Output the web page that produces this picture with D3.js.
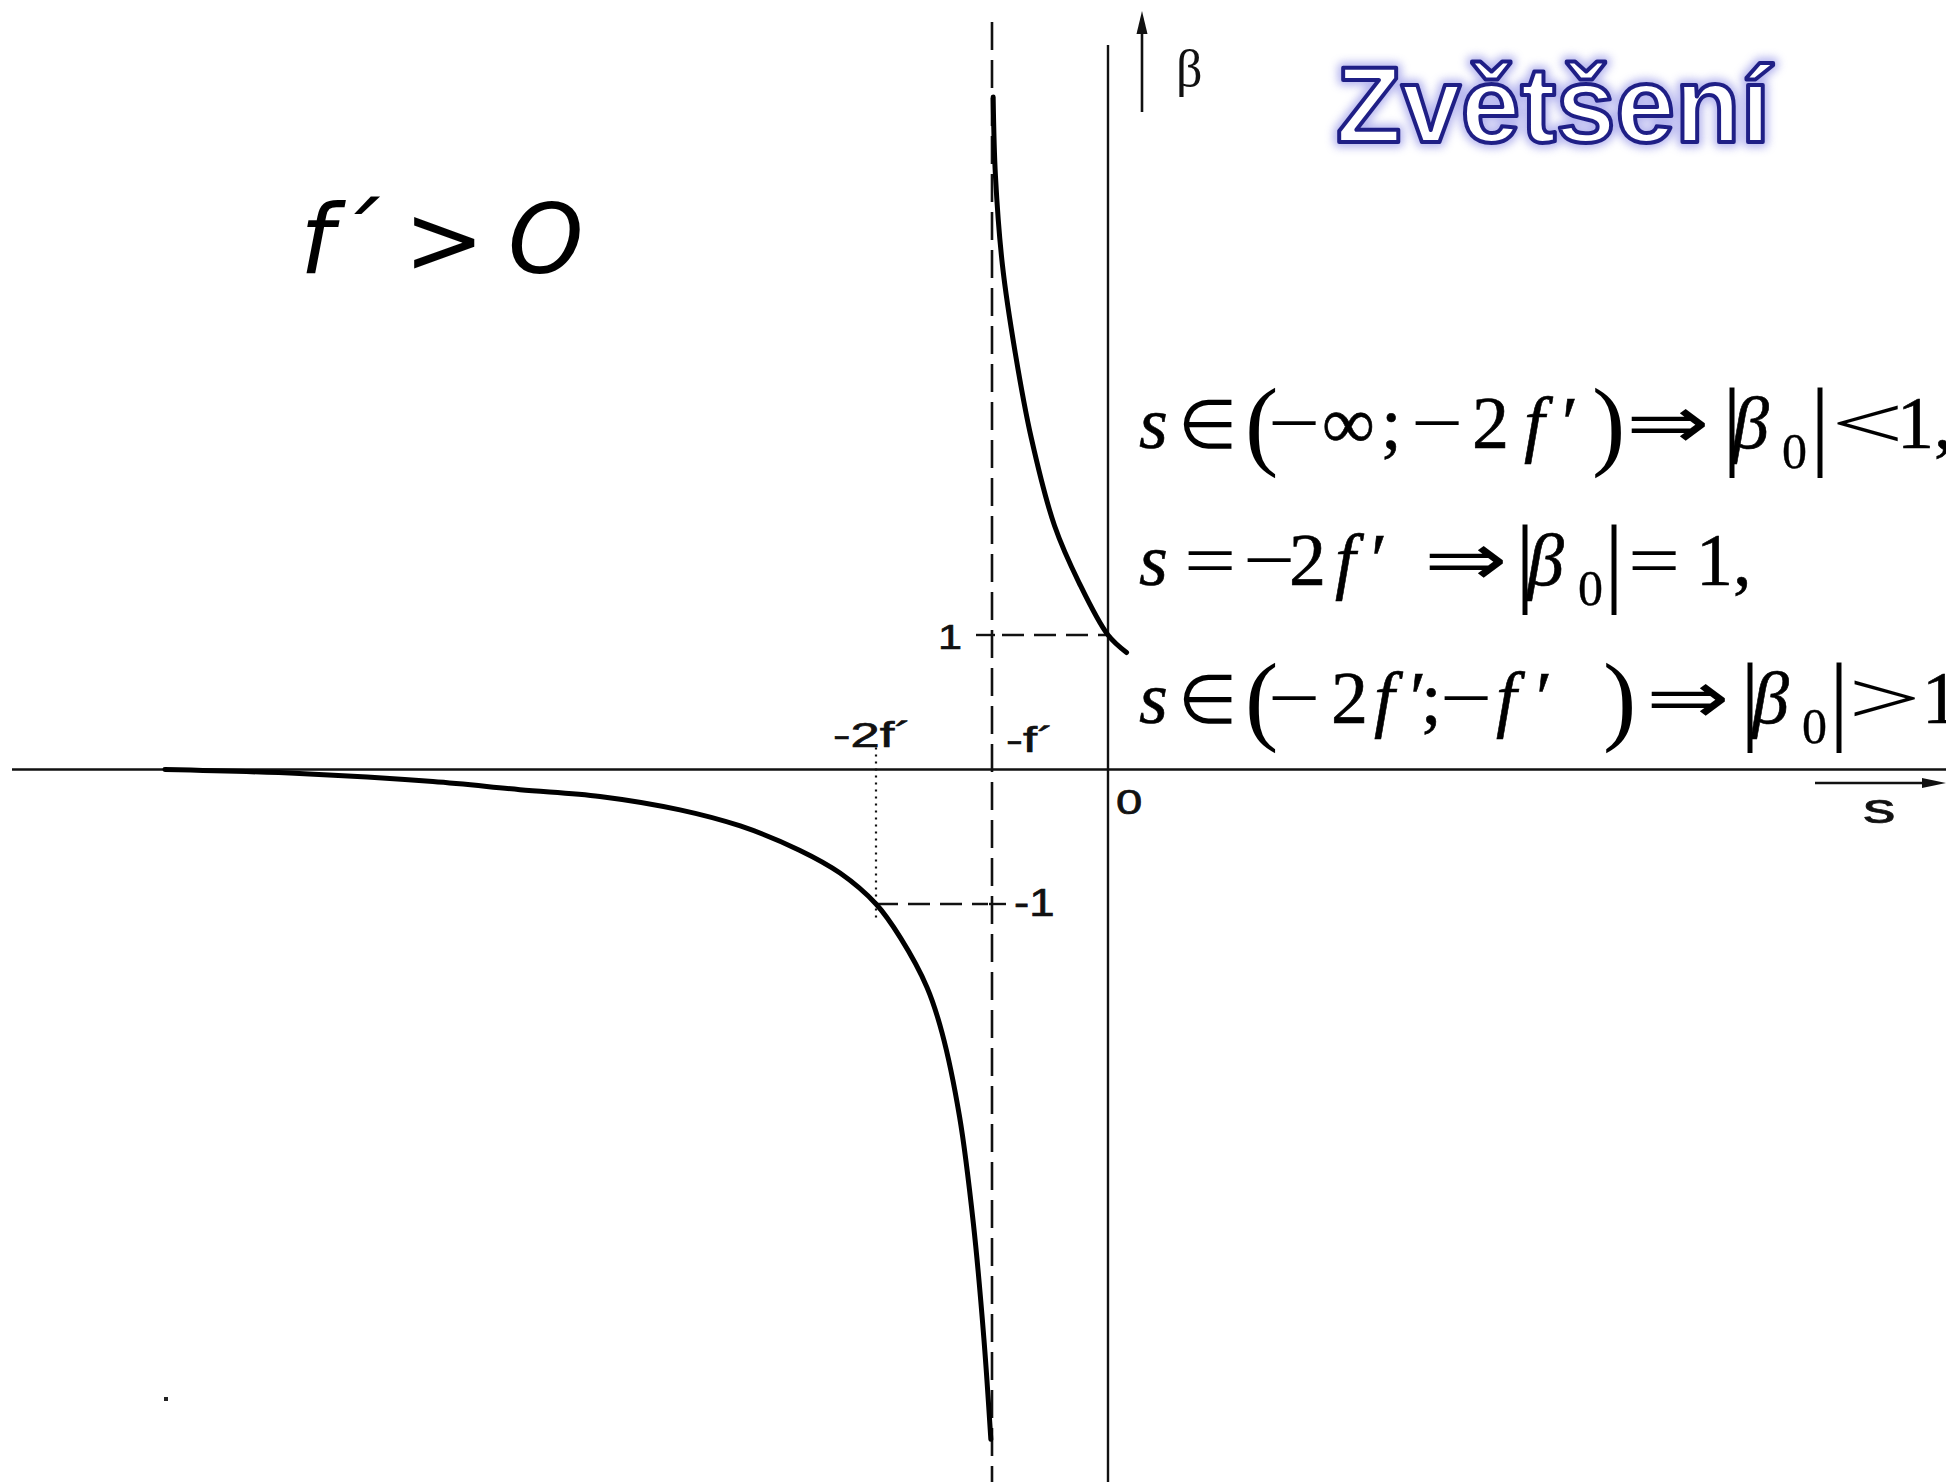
<!DOCTYPE html>
<html>
<head>
<meta charset="utf-8">
<script src="https://cdn.jsdelivr.net/npm/d3@7"></script>
<style>
  html, body { margin: 0; padding: 0; background: #fff; overflow: hidden; }
  svg { display: block; }
</style>
</head>
<body>
<svg id="chart" width="1946" height="1482"></svg>
<script>
// Lateral magnification β of a thin lens (f´ > 0) versus object distance s (in units of f´)
const leftS    = [-8.13, -6.97, -5.82, -5.07, -4.38, -3.69, -3.17, -2.66, -2.31, -2.00, -1.79, -1.56, -1.43, -1.28, -1.16, -1.07, -1.01];
const leftBeta = [ 0.00, -0.03, -0.09, -0.15, -0.20, -0.30, -0.42, -0.60, -0.77, -1.00, -1.25, -1.62, -1.96, -2.58, -3.38, -4.23, -4.98];
const rightS    = [-0.99, -0.97, -0.91, -0.80, -0.66, -0.46, -0.25, 0.00, 0.16];
const rightBeta = [ 5.00,  4.41,  3.75,  3.10,  2.46,  1.81,  1.39, 1.00, 0.87];

const sTicks = [-2, -1, 0];
const sTickLabels = ["-2f´", "-f´", "0"];
const betaTicks = [1, -1];
const betaTickLabels = ["1", "-1"];

const svg = d3.select("#chart");
const W = 1946, H = 1482;

const x = d3.scaleLinear().domain([-2, 0]).range([876, 1108]);
const y = d3.scaleLinear().domain([-1, 1]).range([904, 635]);

const ink = "#111";
const sans = "'Liberation Sans', Arial, sans-serif";
const serif = "'Liberation Serif', 'Times New Roman', serif";

// ---- axes ----
svg.append("line").attr("x1", 12).attr("x2", W).attr("y1", y(0)).attr("y2", y(0))
  .attr("stroke", ink).attr("stroke-width", 2.6);
svg.append("line").attr("x1", x(0)).attr("x2", x(0)).attr("y1", 45).attr("y2", H)
  .attr("stroke", ink).attr("stroke-width", 2.4);

// asymptote s = -f´
svg.append("line").attr("x1", x(-1)).attr("x2", x(-1)).attr("y1", 22).attr("y2", H)
  .attr("stroke", ink).attr("stroke-width", 2.6).attr("stroke-dasharray", "28,10");

// guides to β = 1 and β = -1
svg.append("line").attr("x1", x(-1) + 10).attr("x2", x(0)).attr("y1", y(1)).attr("y2", y(1))
  .attr("stroke", ink).attr("stroke-width", 2.4).attr("stroke-dasharray", "22,10");
svg.append("line").attr("x1", x(-2)).attr("x2", x(-1) - 4).attr("y1", y(-1)).attr("y2", y(-1))
  .attr("stroke", ink).attr("stroke-width", 2.4).attr("stroke-dasharray", "22,10");
// dotted drop from s = -2f´
svg.append("line").attr("x1", x(-2)).attr("x2", x(-2)).attr("y1", y(0) - 22).attr("y2", y(-1) + 18)
  .attr("stroke", ink).attr("stroke-width", 2.2).attr("stroke-dasharray", "2,5");

// β ticks on the asymptote
svg.append("line").attr("x1", x(-1) - 16).attr("x2", x(-1) + 3).attr("y1", y(1)).attr("y2", y(1))
  .attr("stroke", ink).attr("stroke-width", 2.4);
svg.append("line").attr("x1", x(-1) - 3).attr("x2", x(-1) + 14).attr("y1", y(-1)).attr("y2", y(-1))
  .attr("stroke", ink).attr("stroke-width", 2.4);

// ---- tick labels (wide sans lettering) ----
const sLabelPos = [
  { dx: -43, dy: -23, sx: 1.5 },   // -2f´
  { dx: 14,  dy: -18, sx: 1.45 },  // -f´
  { dx: 8,   dy: 44,  sx: 1.35 }   // 0
];
svg.selectAll("text.sTick").data(sTicks).join("text")
  .attr("class", "sTick")
  .attr("transform", (d, i) => `translate(${x(d) + sLabelPos[i].dx},${y(0) + sLabelPos[i].dy}) scale(${sLabelPos[i].sx},1)`)
  .attr("font-family", sans).attr("font-size", 35).attr("fill", ink)
  .attr("stroke", ink).attr("stroke-width", 0.7)
  .text((d, i) => sTickLabels[i]);

const bLabelPos = [
  { dx: -30, dy: 14, anchor: "end", size: 36, sx: 1.2 },
  { dx: 22,  dy: 12, anchor: "start", size: 38, sx: 1.2 }
];
svg.selectAll("text.bTick").data(betaTicks).join("text")
  .attr("class", "bTick")
  .attr("transform", (d, i) => `translate(${x(-1) + bLabelPos[i].dx},${y(d) + bLabelPos[i].dy}) scale(${bLabelPos[i].sx},1)`)
  .attr("text-anchor", (d, i) => bLabelPos[i].anchor)
  .attr("font-family", sans).attr("font-size", (d, i) => bLabelPos[i].size).attr("fill", ink)
  .attr("stroke", ink).attr("stroke-width", 0.7)
  .text((d, i) => betaTickLabels[i]);

// ---- curve ----
const line = d3.line().x(d => x(d[0])).y(d => y(d[1])).curve(d3.curveCatmullRom.alpha(0.5));
[d3.zip(leftS, leftBeta), d3.zip(rightS, rightBeta)].forEach(branch => {
  svg.append("path").datum(branch).attr("d", line)
    .attr("fill", "none").attr("stroke", "#000").attr("stroke-width", 5)
    .attr("stroke-linecap", "round").attr("stroke-linejoin", "round");
});

// ---- axis arrows and names ----
const defs = svg.append("defs");
svg.append("line").attr("x1", 1815).attr("x2", 1928).attr("y1", 783).attr("y2", 783)
  .attr("stroke", ink).attr("stroke-width", 2.4);
svg.append("path").attr("d", "M1946,783 L1922,778 L1922,788 Z").attr("fill", ink);
svg.append("text").attr("transform", "translate(1863,823) scale(1.55,1)")
  .attr("font-family", sans).attr("font-size", 42).attr("fill", ink)
  .attr("stroke", ink).attr("stroke-width", 0.7).text("s");

svg.append("line").attr("x1", 1142).attr("x2", 1142).attr("y1", 112).attr("y2", 30)
  .attr("stroke", ink).attr("stroke-width", 2.6);
svg.append("path").attr("d", "M1142,11 L1136.5,34 L1147.5,34 Z").attr("fill", ink);
svg.append("text").attr("x", 1176).attr("y", 86).attr("font-family", serif).attr("font-size", 52)
  .attr("fill", ink).text("β");

// stray dot
svg.append("rect").attr("x", 164).attr("y", 1397).attr("width", 4).attr("height", 4).attr("fill", "#222");

// ---- heading f´ > 0 ----
const head = svg.append("text").attr("y", 273).attr("font-family", "'DejaVu Sans', Verdana, sans-serif")
  .attr("font-style", "italic").attr("font-size", 96).attr("fill", "#000");
head.append("tspan").attr("x", 300).text("f");
head.append("tspan").attr("x", 330).text("´");
head.append("tspan").attr("x", 404).text(">");
head.append("tspan").attr("x", 508).text("O");

// ---- title Zvětšení ----
const glow = defs.append("filter").attr("id", "glow").attr("x", "-10%").attr("y", "-30%")
  .attr("width", "120%").attr("height", "160%");
glow.append("feGaussianBlur").attr("stdDeviation", 4);
svg.append("text").attr("x", 1336).attr("y", 142).attr("font-family", sans).attr("font-weight", "bold")
  .attr("font-size", 107).attr("fill", "#a8a8ee").attr("stroke", "#9898e8").attr("stroke-width", 11)
  .attr("stroke-linejoin", "round").attr("filter", "url(#glow)").attr("opacity", 0.7).text("Zvětšení");
svg.append("text").attr("x", 1336).attr("y", 142).attr("font-family", sans).attr("font-weight", "bold")
  .attr("font-size", 107).attr("fill", "#fff").attr("stroke", "#1f1f86").attr("stroke-width", 4)
  .attr("stroke-linejoin", "round").text("Zvětšení");

// ---- conditions on s and |β0| ----
function eqLine(baseline, parts) {
  const g = svg.append("g").attr("fill", "#000").attr("font-family", serif).attr("stroke", "#000");
  parts.forEach(p => {
    let size = 74, dy = 0, sw = 0.6;
    if (p.big) { size = 100; dy = 9; sw = 0; }
    if (p.sub) { size = 50; dy = 20; sw = 0.4; }
    if (p.op)  { size = p.size || 74; sw = 0; }
    const t = g.append("text")
      .attr("transform", `translate(${p.x},${baseline + dy}) scale(${p.sx || 1},1)`)
      .attr("font-size", size).attr("stroke-width", sw).text(p.t);
    if (p.it) t.attr("font-style", "italic");
  });
}
eqLine(448, [
  { t: "s", x: 1139, it: true }, { t: "∈", x: 1178, op: true, size: 68 }, { t: "(", x: 1245, big: true },
  { t: "−", x: 1268, op: true, sx: 1.25 }, { t: "∞", x: 1322 }, { t: ";", x: 1381 }, { t: "−", x: 1411, op: true, sx: 1.25 },
  { t: "2", x: 1472 }, { t: "f", x: 1524, it: true }, { t: "′", x: 1562 },
  { t: ")", x: 1592, big: true }, { t: "⇒", x: 1626, op: true, sx: 1.35 }, { t: "|", x: 1722, big: true },
  { t: "β", x: 1732, it: true }, { t: "0", x: 1782, sub: true }, { t: "|", x: 1810, big: true },
  { t: "<", x: 1831, op: true, sx: 1.75 }, { t: "1,", x: 1897 }
]);
eqLine(585, [
  { t: "s", x: 1139, it: true }, { t: "=", x: 1184, op: true, sx: 1.25 }, { t: "−", x: 1243, op: true, sx: 1.25 },
  { t: "2", x: 1289 }, { t: "f", x: 1335, it: true }, { t: "′", x: 1371 }, { t: "⇒", x: 1424, op: true, sx: 1.35 },
  { t: "|", x: 1515, big: true }, { t: "β", x: 1527, it: true }, { t: "0", x: 1578, sub: true },
  { t: "|", x: 1604, big: true }, { t: "=", x: 1628, op: true, sx: 1.25 }, { t: "1,", x: 1696 }
]);
eqLine(723, [
  { t: "s", x: 1139, it: true }, { t: "∈", x: 1178, op: true, size: 68 }, { t: "(", x: 1245, big: true },
  { t: "−", x: 1268, op: true, sx: 1.25 }, { t: "2", x: 1331 }, { t: "f", x: 1374, it: true }, { t: "′", x: 1410 },
  { t: ";", x: 1421 }, { t: "−", x: 1440, op: true, sx: 1.25 }, { t: "f", x: 1496, it: true }, { t: "′", x: 1536 },
  { t: ")", x: 1603, big: true }, { t: "⇒", x: 1646, op: true, sx: 1.35 }, { t: "|", x: 1740, big: true },
  { t: "β", x: 1752, it: true }, { t: "0", x: 1802, sub: true }, { t: "|", x: 1829, big: true },
  { t: ">", x: 1848, op: true, sx: 1.75 }, { t: "1", x: 1922 }
]);
</script>
</body>
</html>
